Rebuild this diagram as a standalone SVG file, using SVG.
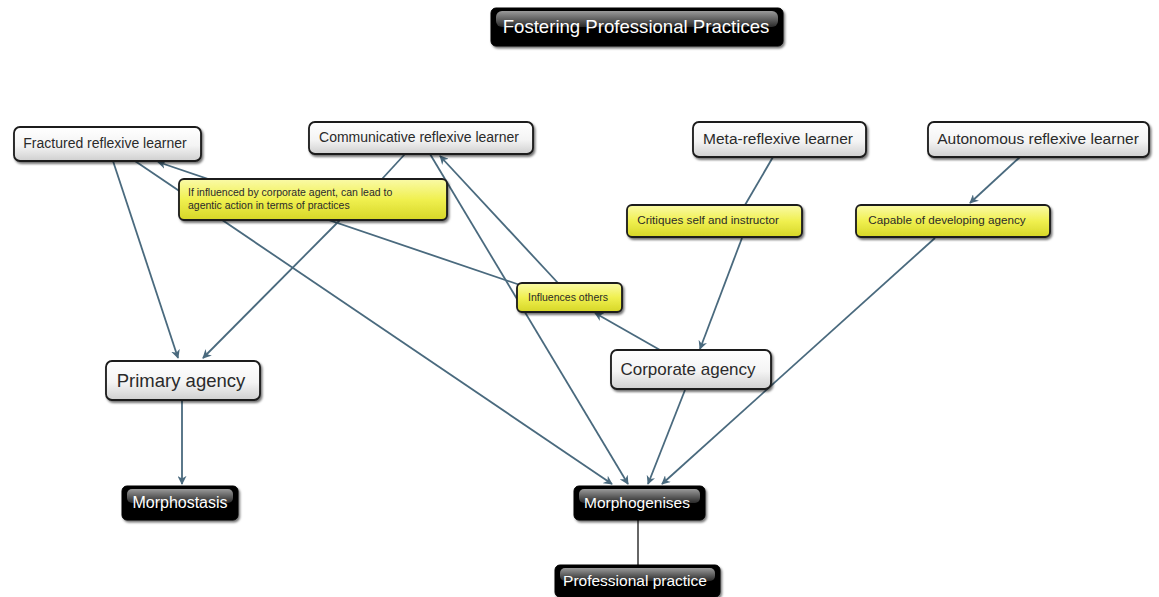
<svg xmlns="http://www.w3.org/2000/svg" width="1159" height="597" viewBox="0 0 1159 597">
  <defs>
    <linearGradient id="gWhite" x1="0" y1="0" x2="0" y2="1">
      <stop offset="0" stop-color="#ffffff"/>
      <stop offset="0.55" stop-color="#f4f4f4"/>
      <stop offset="1" stop-color="#cfcfcf"/>
    </linearGradient>
    <linearGradient id="gYellow" x1="0" y1="0" x2="0" y2="1">
      <stop offset="0" stop-color="#fafaa8"/>
      <stop offset="0.5" stop-color="#f0f050"/>
      <stop offset="1" stop-color="#d6d626"/>
    </linearGradient>
    <linearGradient id="gGloss" x1="0" y1="0" x2="0" y2="1">
      <stop offset="0" stop-color="#9a9a9a"/>
      <stop offset="1" stop-color="#2a2a2a"/>
    </linearGradient>
    <filter id="shadow" x="-10%" y="-20%" width="120%" height="150%">
      <feDropShadow dx="1.5" dy="2" stdDeviation="1.2" flood-color="#000" flood-opacity="0.55"/>
    </filter>
    <marker id="arrow" viewBox="0 0 10 10" refX="9" refY="5" markerWidth="9" markerHeight="9" markerUnits="userSpaceOnUse" orient="auto">
      <path d="M0,0 L10,5 L0,10 L3,5 Z" fill="#4a6a7e"/>
    </marker>
  </defs>
  <style>
    .edge { stroke: #4a6a7e; stroke-width: 1.8; fill: none; }
    .arr { marker-end: url(#arrow); }
    .plain { fill: url(#gWhite); stroke: #1a1a1a; stroke-width: 1.8; filter: url(#shadow); }
    .link { fill: url(#gYellow); stroke: #1a1a1a; stroke-width: 1.8; filter: url(#shadow); }
    .dark { fill: #000; stroke: #000; stroke-width: 1; filter: url(#shadow); }
    .gloss { fill: url(#gGloss); }
    .t { font-family: "Liberation Sans", Arial, sans-serif; fill: #2a2a2a; text-anchor: middle; }
    .tl { font-family: "Liberation Sans", Arial, sans-serif; fill: #2a2a2a; }
    .tw { font-family: "Liberation Sans", Arial, sans-serif; fill: #ffffff; text-anchor: middle; }
  </style>

  <rect width="1159" height="597" fill="#ffffff"/>

  <!-- connectors -->
  <g id="connectors">
    <line class="edge arr" x1="113" y1="161" x2="178" y2="358"/>
    <line class="edge arr" x1="135" y1="161" x2="612" y2="484"/>
    <line class="edge arr" x1="520" y1="285" x2="158" y2="162"/>
    <line class="edge" x1="405" y1="154" x2="382" y2="179"/>
    <line class="edge arr" x1="340" y1="220" x2="203" y2="358"/>
    <line class="edge arr" x1="430" y1="154" x2="628" y2="484"/>
    <line class="edge arr" x1="558" y1="283" x2="440" y2="156"/>
    <line class="edge arr" x1="660" y1="350" x2="595" y2="313"/>
    <line class="edge" x1="773" y1="157" x2="745" y2="205"/>
    <line class="edge arr" x1="742" y1="238" x2="700" y2="349"/>
    <line class="edge arr" x1="1020" y1="157" x2="970" y2="203"/>
    <line class="edge arr" x1="935" y1="238" x2="662" y2="484"/>
    <line class="edge arr" x1="685" y1="390" x2="648" y2="484"/>
    <line class="edge arr" x1="182" y1="400" x2="182" y2="484"/>
    <line x1="638" y1="520" x2="638" y2="565" stroke="#666666" stroke-width="2"/>
  </g>

  <!-- title -->
  <g id="title">
    <rect class="dark" x="491" y="8" width="292" height="38" rx="5"/>
    <rect class="gloss" x="496" y="11" width="282" height="16" rx="6"/>
    <text class="tw" x="636" y="33" font-size="18.6">Fostering Professional Practices</text>
  </g>

  <!-- learner concepts -->
  <g id="fractured">
    <rect class="plain" x="14" y="127" width="187" height="34" rx="6"/>
    <text class="t" x="105" y="148" font-size="14">Fractured reflexive learner</text>
  </g>
  <g id="communicative">
    <rect class="plain" x="309" y="122" width="224" height="32" rx="6"/>
    <text class="t" x="419" y="142" font-size="14">Communicative reflexive learner</text>
  </g>
  <g id="meta">
    <rect class="plain" x="693" y="122" width="173" height="35" rx="6"/>
    <text class="t" x="778" y="144" font-size="15.5">Meta-reflexive learner</text>
  </g>
  <g id="autonomous">
    <rect class="plain" x="928" y="122" width="221" height="35" rx="6"/>
    <text class="t" x="1038" y="144" font-size="15.5">Autonomous reflexive learner</text>
  </g>

  <!-- linking phrases -->
  <g id="if-influenced">
    <rect class="link" x="179" y="179" width="268" height="41" rx="5"/>
    <text class="tl" x="188" y="196" font-size="10.5">If influenced by corporate agent, can lead to</text>
    <text class="tl" x="188" y="209" font-size="10.5">agentic action in terms of practices</text>
  </g>
  <g id="critiques">
    <rect class="link" x="627" y="205" width="175" height="32" rx="5"/>
    <text class="t" x="708" y="224" font-size="11.7">Critiques self and instructor</text>
  </g>
  <g id="capable">
    <rect class="link" x="856" y="205" width="194" height="32" rx="5"/>
    <text class="t" x="947" y="224" font-size="11.7">Capable of developing agency</text>
  </g>
  <g id="influences">
    <rect class="link" x="517" y="283" width="105" height="29" rx="5"/>
    <text class="t" x="568" y="301" font-size="10.5">Influences others</text>
  </g>

  <!-- agency concepts -->
  <g id="primary">
    <rect class="plain" x="106" y="361" width="154" height="39" rx="6"/>
    <text class="t" x="181" y="387" font-size="18.5">Primary agency</text>
  </g>
  <g id="corporate">
    <rect class="plain" x="611" y="350" width="160" height="39" rx="6"/>
    <text class="t" x="688" y="375" font-size="17">Corporate agency</text>
  </g>

  <!-- outcomes -->
  <g id="morphostasis">
    <rect class="dark" x="122" y="486" width="116" height="34" rx="5"/>
    <rect class="gloss" x="127" y="489" width="106" height="14" rx="5"/>
    <text class="tw" x="180" y="508" font-size="16">Morphostasis</text>
  </g>
  <g id="morphogenises">
    <rect class="dark" x="574" y="486" width="131" height="34" rx="5"/>
    <rect class="gloss" x="579" y="489" width="121" height="14" rx="5"/>
    <text class="tw" x="637" y="508" font-size="15.5">Morphogenises</text>
  </g>
  <g id="professional-practice">
    <rect class="dark" x="555" y="565" width="165" height="32" rx="5"/>
    <rect class="gloss" x="560" y="568" width="155" height="13" rx="5"/>
    <text class="tw" x="635" y="586" font-size="15.5">Professional practice</text>
  </g>
</svg>
